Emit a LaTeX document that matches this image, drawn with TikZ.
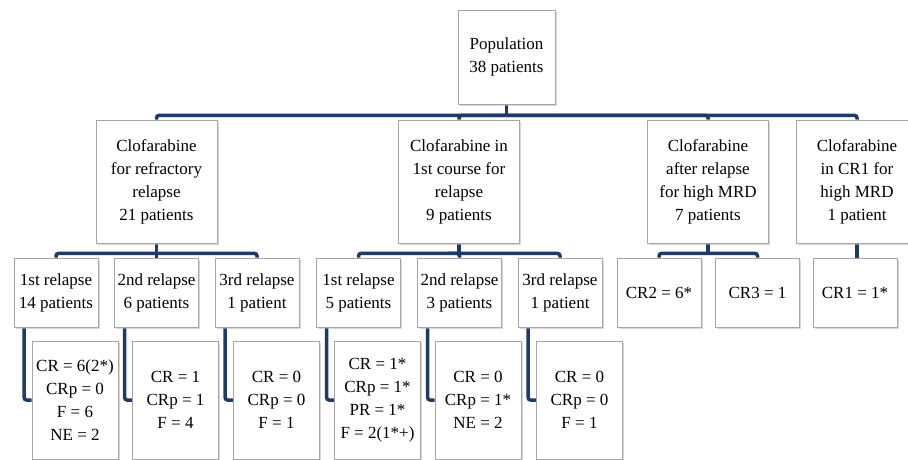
\documentclass[tikz,border=0pt]{standalone}
\usepackage{fontspec}
\setmainfont{Liberation Serif}
\usetikzlibrary{positioning,shadows,backgrounds}
\definecolor{linkblue}{RGB}{30,58,106}

\begin{document}
\begin{tikzpicture}[x=1pt,y=-1pt,
	box/.style={draw=gray!70, fill=white, line width=0.8pt, align=center, inner sep=1pt,
		font=\fontsize{17}{23}\selectfont,
		drop shadow={shadow xshift=1.8pt, shadow yshift=-1.8pt, fill=black!30}},
	topbox/.style={box, minimum width=97pt, minimum height=94pt},
	groupbox/.style={box, minimum width=121pt, minimum height=123pt},
	subbox/.style={box, minimum width=84pt, minimum height=69pt},
	resbox/.style={box, minimum width=86pt, minimum height=118pt},
	link/.style={draw=linkblue, line width=3.5pt, rounded corners=2.5pt}]

					\useasboundingbox (0,0) rectangle (908,460);

					\node[topbox] (POP) at (506.5,57) {Population\\38 patients};

					\node[groupbox] (RF) at (156.5,181.5) {Clofarabine\\for refractory\\relapse\\21 patients};
					\node[groupbox] (FC) at (459,181.5) {Clofarabine in\\1st course for\\relapse\\9 patients};
					\node[groupbox] (MR) at (708,181.5) {Clofarabine\\after relapse\\for high MRD\\7 patients};
					\node[groupbox] (CR) at (857,181.5) {Clofarabine\\in CR1 for\\high MRD\\1 patient};

					\node[subbox] (RF1) at (56,292.5) {1st relapse\\14 patients};
					\node[subbox] (RF2) at (156.5,292.5) {2nd relapse\\6 patients};
					\node[subbox] (RF3) at (257,292.5) {3rd relapse\\1 patient};
					\node[subbox] (FC1) at (358.5,292.5) {1st relapse\\5 patients};
					\node[subbox] (FC2) at (459.5,292.5) {2nd relapse\\3 patients};
					\node[subbox] (FC3) at (560,292.5) {3rd relapse\\1 patient};
					\node[subbox] (MR2) at (659,292.5) {CR2 = 6*};
					\node[subbox] (MR3) at (757.5,292.5) {CR3 = 1};
					\node[subbox] (CR1) at (855,292.5) {CR1 = 1*};

					\node[resbox] (oRF1) at (75,400) {CR = 6(2*)\\CRp = 0\\F = 6\\NE = 2};
					\node[resbox] (oRF2) at (175.5,400) {CR = 1\\CRp = 1\\F = 4};
					\node[resbox] (oRF3) at (276.5,400) {CR = 0\\CRp = 0\\F = 1};
					\node[resbox] (oFC1) at (377.5,400) {CR = 1*\\CRp = 1*\\PR = 1*\\F = 2(1*+)};
					\node[resbox] (oFC2) at (478,400) {CR = 0\\CRp = 1*\\NE = 2};
					\node[resbox] (oFC3) at (579.5,400) {CR = 0\\CRp = 0\\F = 1};

					\begin{scope}[on background layer]
					\draw[link] (POP.south) -- ++(0,11) coordinate (bus0);
					\foreach \g in {RF,FC,MR,CR}
						\draw[link] (bus0) -| (\g.north);

					\draw[link] (RF.south) -- ++(0,10) coordinate (busRF);
					\foreach \s in {RF1,RF2,RF3}
						\draw[link] (busRF) -| (\s.north);

					\draw[link] (FC.south) -- ++(0,10) coordinate (busFC);
					\foreach \s in {FC1,FC2,FC3}
						\draw[link] (busFC) -| (\s.north);

					\draw[link] (MR.south) -- ++(0,10) coordinate (busMR);
					\foreach \s in {MR2,MR3}
						\draw[link] (busMR) -| (\s.north);

					\draw[link] (CR.south) -- (CR.south |- CR1.north);

					\foreach \s in {RF1,RF2,RF3,FC1,FC2,FC3}
						\draw[link] ([xshift=10.5pt]\s.south west) |- (o\s.west);
					\end{scope}
				\end{tikzpicture}
\end{document}
